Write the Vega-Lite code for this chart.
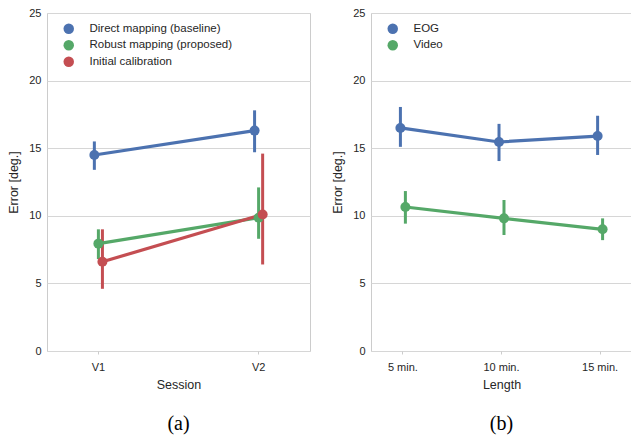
{
  "$schema": "https://vega.github.io/schema/vega-lite/v6.json",
  "padding": {"left": 7, "top": 6, "right": 0, "bottom": 3},
  "background": "white",
  "spacing": 20,
  "config": {
    "view": {"stroke": "#cccccc", "strokeWidth": 1},
    "font": "Liberation Sans",
    "axis": {"labelFont": "Liberation Sans", "labelFontSize": 11, "labelColor": "#262626", "titleFont": "Liberation Sans", "titleFontSize": 12.5, "titleFontWeight": "normal", "titleColor": "#262626", "domainColor": "#cccccc", "gridColor": "#d6d6d6", "tickColor": "#cccccc"},
    "axisY": {"grid": true, "ticks": false, "domain": false, "labelPadding": 6, "titlePadding": 8},
    "axisX": {"grid": false, "ticks": true, "tickSize": 3, "domain": false, "labelPadding": 7, "labelAngle": 0, "titlePadding": 6},
    "legend": {"labelFont": "Liberation Sans", "labelFontSize": 11.5, "labelColor": "#262626"},
    "title": {"font": "Liberation Serif", "fontSize": 20, "fontWeight": "normal", "color": "#000000"}
  },
  "resolve": {"scale": {"color": "independent", "x": "independent", "xOffset": "independent"}, "legend": {"color": "independent"}},
  "hconcat": [
    {
      "width": 263,
      "height": 338,
      "title": {"text": "(a)", "orient": "bottom", "offset": 23},
      "data": {"values": [
        {"Session": "V1", "Method": "Direct mapping (baseline)", "mean": 14.5, "lo": 13.4, "hi": 15.5},
        {"Session": "V2", "Method": "Direct mapping (baseline)", "mean": 16.3, "lo": 14.7, "hi": 17.8},
        {"Session": "V1", "Method": "Robust mapping (proposed)", "mean": 7.94, "lo": 6.8, "hi": 9.0},
        {"Session": "V2", "Method": "Robust mapping (proposed)", "mean": 9.86, "lo": 8.3, "hi": 12.1},
        {"Session": "V1", "Method": "Initial calibration", "mean": 6.6, "lo": 4.6, "hi": 9.0},
        {"Session": "V2", "Method": "Initial calibration", "mean": 10.1, "lo": 6.4, "hi": 14.6}
      ]},
      "encoding": {
        "x": {"field": "Session", "type": "nominal", "title": "Session", "scale": {"type": "band", "paddingInner": 0.9245, "paddingOuter": 0.283}},
        "xOffset": {"field": "Method", "type": "nominal", "scale": {"domain": ["Direct mapping (baseline)", "Robust mapping (proposed)", "Initial calibration"], "paddingInner": 0, "paddingOuter": 0}},
        "color": {"field": "Method", "type": "nominal", "scale": {"domain": ["Direct mapping (baseline)", "Robust mapping (proposed)", "Initial calibration"], "range": ["#4c72b0", "#55a868", "#c44e52"]},
          "legend": {"title": null, "orient": "none", "legendX": 16, "legendY": 10, "symbolType": "circle", "symbolSize": 110, "symbolStrokeWidth": 0, "symbolOpacity": 1, "rowPadding": 3.5, "labelOffset": 15, "padding": 0, "labelFont": "Liberation Sans"}}
      },
      "layer": [
        {"mark": {"type": "rule", "strokeWidth": 3}, "encoding": {"y": {"field": "lo", "type": "quantitative", "title": "Error [deg.]", "scale": {"domain": [0, 25], "nice": false}, "axis": {"values": [0, 5, 10, 15, 20, 25]}}, "y2": {"field": "hi"}}},
        {"mark": {"type": "line", "strokeWidth": 3.2}, "encoding": {"y": {"field": "mean", "type": "quantitative", "title": "Error [deg.]", "scale": {"domain": [0, 25], "nice": false}}}},
        {"mark": {"type": "point", "filled": true, "size": 100, "opacity": 1}, "encoding": {"y": {"field": "mean", "type": "quantitative", "title": "Error [deg.]", "scale": {"domain": [0, 25], "nice": false}}}}
      ]
    },
    {
      "width": 261,
      "height": 338,
      "title": {"text": "(b)", "orient": "bottom", "offset": 23},
      "data": {"values": [
        {"Length": "5 min.", "Signal": "EOG", "mean": 16.5, "lo": 15.1, "hi": 18.05},
        {"Length": "10 min.", "Signal": "EOG", "mean": 15.46, "lo": 14.05, "hi": 16.8},
        {"Length": "15 min.", "Signal": "EOG", "mean": 15.9, "lo": 14.5, "hi": 17.4},
        {"Length": "5 min.", "Signal": "Video", "mean": 10.65, "lo": 9.42, "hi": 11.83},
        {"Length": "10 min.", "Signal": "Video", "mean": 9.81, "lo": 8.58, "hi": 11.17},
        {"Length": "15 min.", "Signal": "Video", "mean": 9.0, "lo": 8.2, "hi": 9.81}
      ]},
      "encoding": {
        "x": {"field": "Length", "type": "nominal", "title": "Length", "sort": ["5 min.", "10 min.", "15 min."], "scale": {"type": "band", "paddingInner": 0.899, "paddingOuter": 0.273}},
        "xOffset": {"field": "Signal", "type": "nominal", "scale": {"domain": ["EOG", "Video"], "paddingInner": 0, "paddingOuter": 0}},
        "color": {"field": "Signal", "type": "nominal", "scale": {"domain": ["EOG", "Video"], "range": ["#4c72b0", "#55a868"]},
          "legend": {"title": null, "orient": "none", "legendX": 16, "legendY": 10, "symbolType": "circle", "symbolSize": 110, "symbolStrokeWidth": 0, "symbolOpacity": 1, "rowPadding": 3.5, "labelOffset": 15, "padding": 0, "labelFont": "Liberation Sans"}}
      },
      "layer": [
        {"mark": {"type": "rule", "strokeWidth": 3}, "encoding": {"y": {"field": "lo", "type": "quantitative", "title": "Error [deg.]", "scale": {"domain": [0, 25], "nice": false}, "axis": {"values": [0, 5, 10, 15, 20, 25]}}, "y2": {"field": "hi"}}},
        {"mark": {"type": "line", "strokeWidth": 3.2}, "encoding": {"y": {"field": "mean", "type": "quantitative", "title": "Error [deg.]", "scale": {"domain": [0, 25], "nice": false}}}},
        {"mark": {"type": "point", "filled": true, "size": 100, "opacity": 1}, "encoding": {"y": {"field": "mean", "type": "quantitative", "title": "Error [deg.]", "scale": {"domain": [0, 25], "nice": false}}}}
      ]
    }
  ]
}
